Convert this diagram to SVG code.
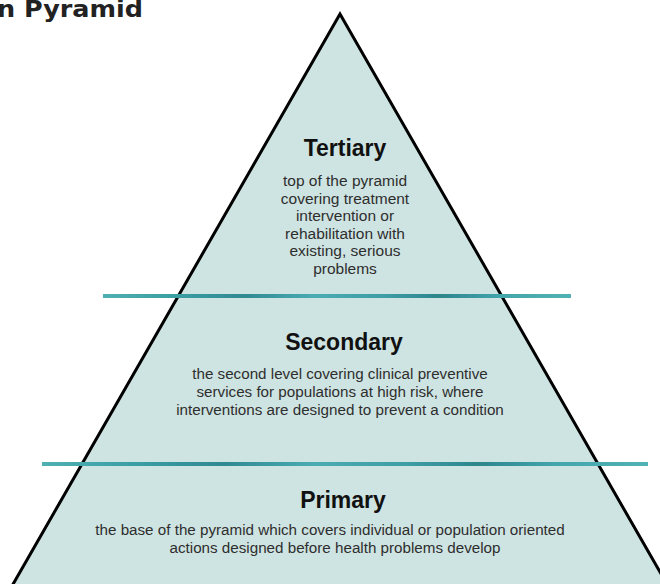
<svg xmlns="http://www.w3.org/2000/svg" width="660" height="584" viewBox="0 0 660 584">
<style>
.title{font-family:"DejaVu Sans",sans-serif;font-weight:bold;font-size:23px;fill:#222}
.head{font-family:"Liberation Sans",Arial,sans-serif;font-weight:bold;font-size:23px;fill:#111;text-anchor:middle}
.body{font-family:"Liberation Sans",Arial,sans-serif;font-size:15.5px;fill:#2e2e2e;text-anchor:middle}
.sm{font-size:15.2px}
.bar{fill:url(#barGrad)}
</style>
<defs>
<linearGradient id="barGrad" x1="0" y1="0" x2="1" y2="0">
<stop offset="0" stop-color="#4fb0b3"/>
<stop offset="0.15" stop-color="#3a9fa3"/>
<stop offset="0.3" stop-color="#2f8a90"/>
<stop offset="0.45" stop-color="#49acb0"/>
<stop offset="0.6" stop-color="#3d9ea3"/>
<stop offset="0.72" stop-color="#2c868c"/>
<stop offset="0.85" stop-color="#43a6aa"/>
<stop offset="1" stop-color="#50b2b5"/>
</linearGradient>
</defs>
<rect width="660" height="584" fill="#ffffff"/>
<text class="title" x="-3" y="17" textLength="146" lengthAdjust="spacingAndGlyphs">n Pyramid</text>
<g id="pyramid">
<polygon points="340,14 12,586 668,586" fill="#cee4e2" stroke="#000" stroke-width="3" stroke-linejoin="miter"/>
</g>
<g id="connectors">
<rect class="bar" x="103" y="294" width="468" height="4"/>
<rect class="bar" x="42" y="462" width="606" height="4"/>
</g>
<g id="tertiary">
<text class="head" x="345" y="156">Tertiary</text>
<text class="body" x="345" y="186">top of the pyramid</text>
<text class="body" x="345" y="203.5">covering treatment</text>
<text class="body" x="345" y="221">intervention or</text>
<text class="body" x="345" y="238.5">rehabilitation with</text>
<text class="body" x="345" y="256">existing, serious</text>
<text class="body" x="345" y="273.5">problems</text>
</g>
<g id="secondary">
<text class="head" x="344" y="350">Secondary</text>
<text class="body sm" x="340" y="379">the second level covering clinical preventive</text>
<text class="body sm" x="340" y="397">services for populations at high risk, where</text>
<text class="body sm" x="340" y="415">interventions are designed to prevent a condition</text>
</g>
<g id="primary">
<text class="head" x="343" y="508">Primary</text>
<text class="body sm" x="330" y="535">the base of the pyramid which covers individual or population oriented</text>
<text class="body sm" x="335" y="553">actions designed before health problems develop</text>
</g>
</svg>
